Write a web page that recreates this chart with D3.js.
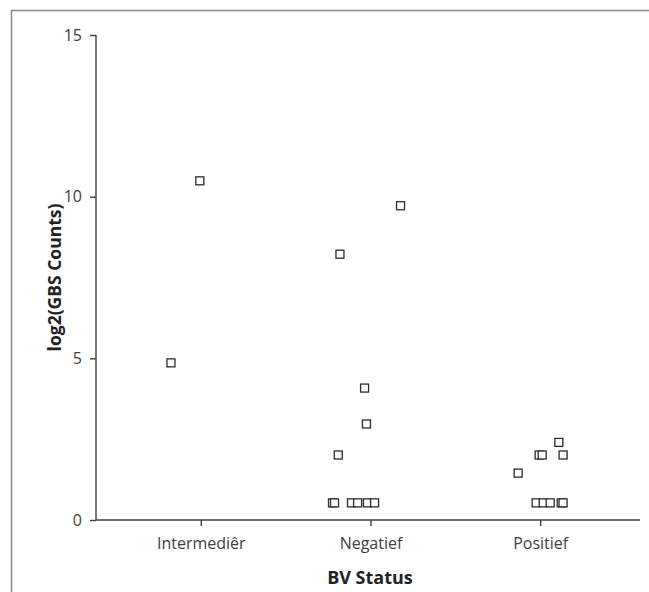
<!DOCTYPE html>
<html>
<head>
<meta charset="utf-8">
<script src="https://cdn.jsdelivr.net/npm/d3@7"></script>
<style>
  body { margin: 0; background: #fff; }
  svg { display: block; font-family: "Open Sans", "Noto Sans", sans-serif; }
</style>
</head>
<body>
<div id="chart"></div>
<script>
// categories on the x axis
var categories = ["Intermediêr", "Negatief", "Positief"];

// each point: category, log2 value, horizontal jitter (fraction of category step)
var pointGroup = ["Intermediêr", "Intermediêr",
    "Negatief", "Negatief", "Negatief", "Negatief", "Negatief",
    "Negatief", "Negatief", "Negatief", "Negatief", "Negatief", "Negatief",
    "Positief", "Positief", "Positief", "Positief", "Positief",
    "Positief", "Positief", "Positief", "Positief", "Positief"];
var pointValue = [4.86, 10.49,
    8.22, 9.72, 4.08, 2.97, 2.01,
    0.53, 0.53, 0.53, 0.53, 0.53, 0.53,
    1.45, 2.40, 2.01, 2.01, 2.01,
    0.53, 0.53, 0.53, 0.53, 0.53];
var pointJitter = [-0.176, -0.006,
    -0.18, 0.177, -0.035, -0.024, -0.19,
    -0.224, -0.212, -0.112, -0.076, -0.018, 0.024,
    -0.13, 0.11, -0.006, 0.012, 0.135,
    -0.024, 0.018, 0.059, 0.124, 0.135];

var yTicks = [0, 5, 10, 15];

var width = 649, height = 592;
var margin = {left: 96, right: 9, top: 35, bottom: 72};

var svg = d3.select("#chart").append("svg")
    .attr("width", width)
    .attr("height", height);

// outer frame (runs off the right and bottom edges)
svg.append("path")
    .attr("d", "M11.5," + (height + 5) + "V10.5H" + (width + 5))
    .attr("fill", "none")
    .attr("stroke", "#8a8a8a")
    .attr("stroke-width", 1.5);

var x = d3.scalePoint()
    .domain(categories)
    .range([99, 642])
    .padding(0.6);

var y = d3.scaleLinear()
    .domain([0, 15])
    .range([height - margin.bottom, margin.top]);

var step = x.step();

// y axis
var yAxis = svg.append("g")
    .attr("transform", "translate(" + margin.left + ",0)")
    .call(d3.axisLeft(y).tickValues(yTicks).tickSize(6).tickPadding(8));

// x axis
var xAxis = svg.append("g")
    .attr("transform", "translate(0," + y(0) + ")")
    .call(d3.axisBottom(x).tickSize(6).tickPadding(12));

[yAxis, xAxis].forEach(function (g) {
    g.select(".domain").attr("stroke", "#404040").attr("stroke-width", 1.4);
    g.selectAll(".tick line").attr("stroke", "#404040").attr("stroke-width", 1.4);
    g.selectAll(".tick text")
        .attr("fill", "#404040")
        .style("font-size", "16px")
        .style("font-family", "'Open Sans', sans-serif");
});
xAxis.select(".domain").attr("d", "M" + margin.left + ",0H" + (width - margin.right));
yAxis.select(".domain").attr("d", "M0," + y(0) + "V" + y(15));

// points
var s = 8;
svg.append("g").selectAll("rect")
    .data(pointValue)
    .enter()
    .append("rect")
    .attr("x", function (d, i) { return x(pointGroup[i]) + pointJitter[i] * step - s / 2; })
    .attr("y", function (d) { return y(d) - s / 2; })
    .attr("width", s)
    .attr("height", s)
    .attr("fill", "#fff")
    .attr("stroke", "#2b2b2b")
    .attr("stroke-width", 1.3);

// axis titles
svg.append("text")
    .attr("x", 370)
    .attr("y", 584)
    .attr("text-anchor", "middle")
    .attr("font-size", 18)
    .attr("font-weight", "bold")
    .attr("fill", "#222")
    .text("BV Status");

svg.append("text")
    .attr("transform", "translate(61," + (y(7.5)) + ") rotate(-90)")
    .attr("text-anchor", "middle")
    .attr("font-size", 17.5)
    .attr("font-weight", "bold")
    .attr("fill", "#222")
    .text("log2(GBS Counts)");
</script>
</body>
</html>
